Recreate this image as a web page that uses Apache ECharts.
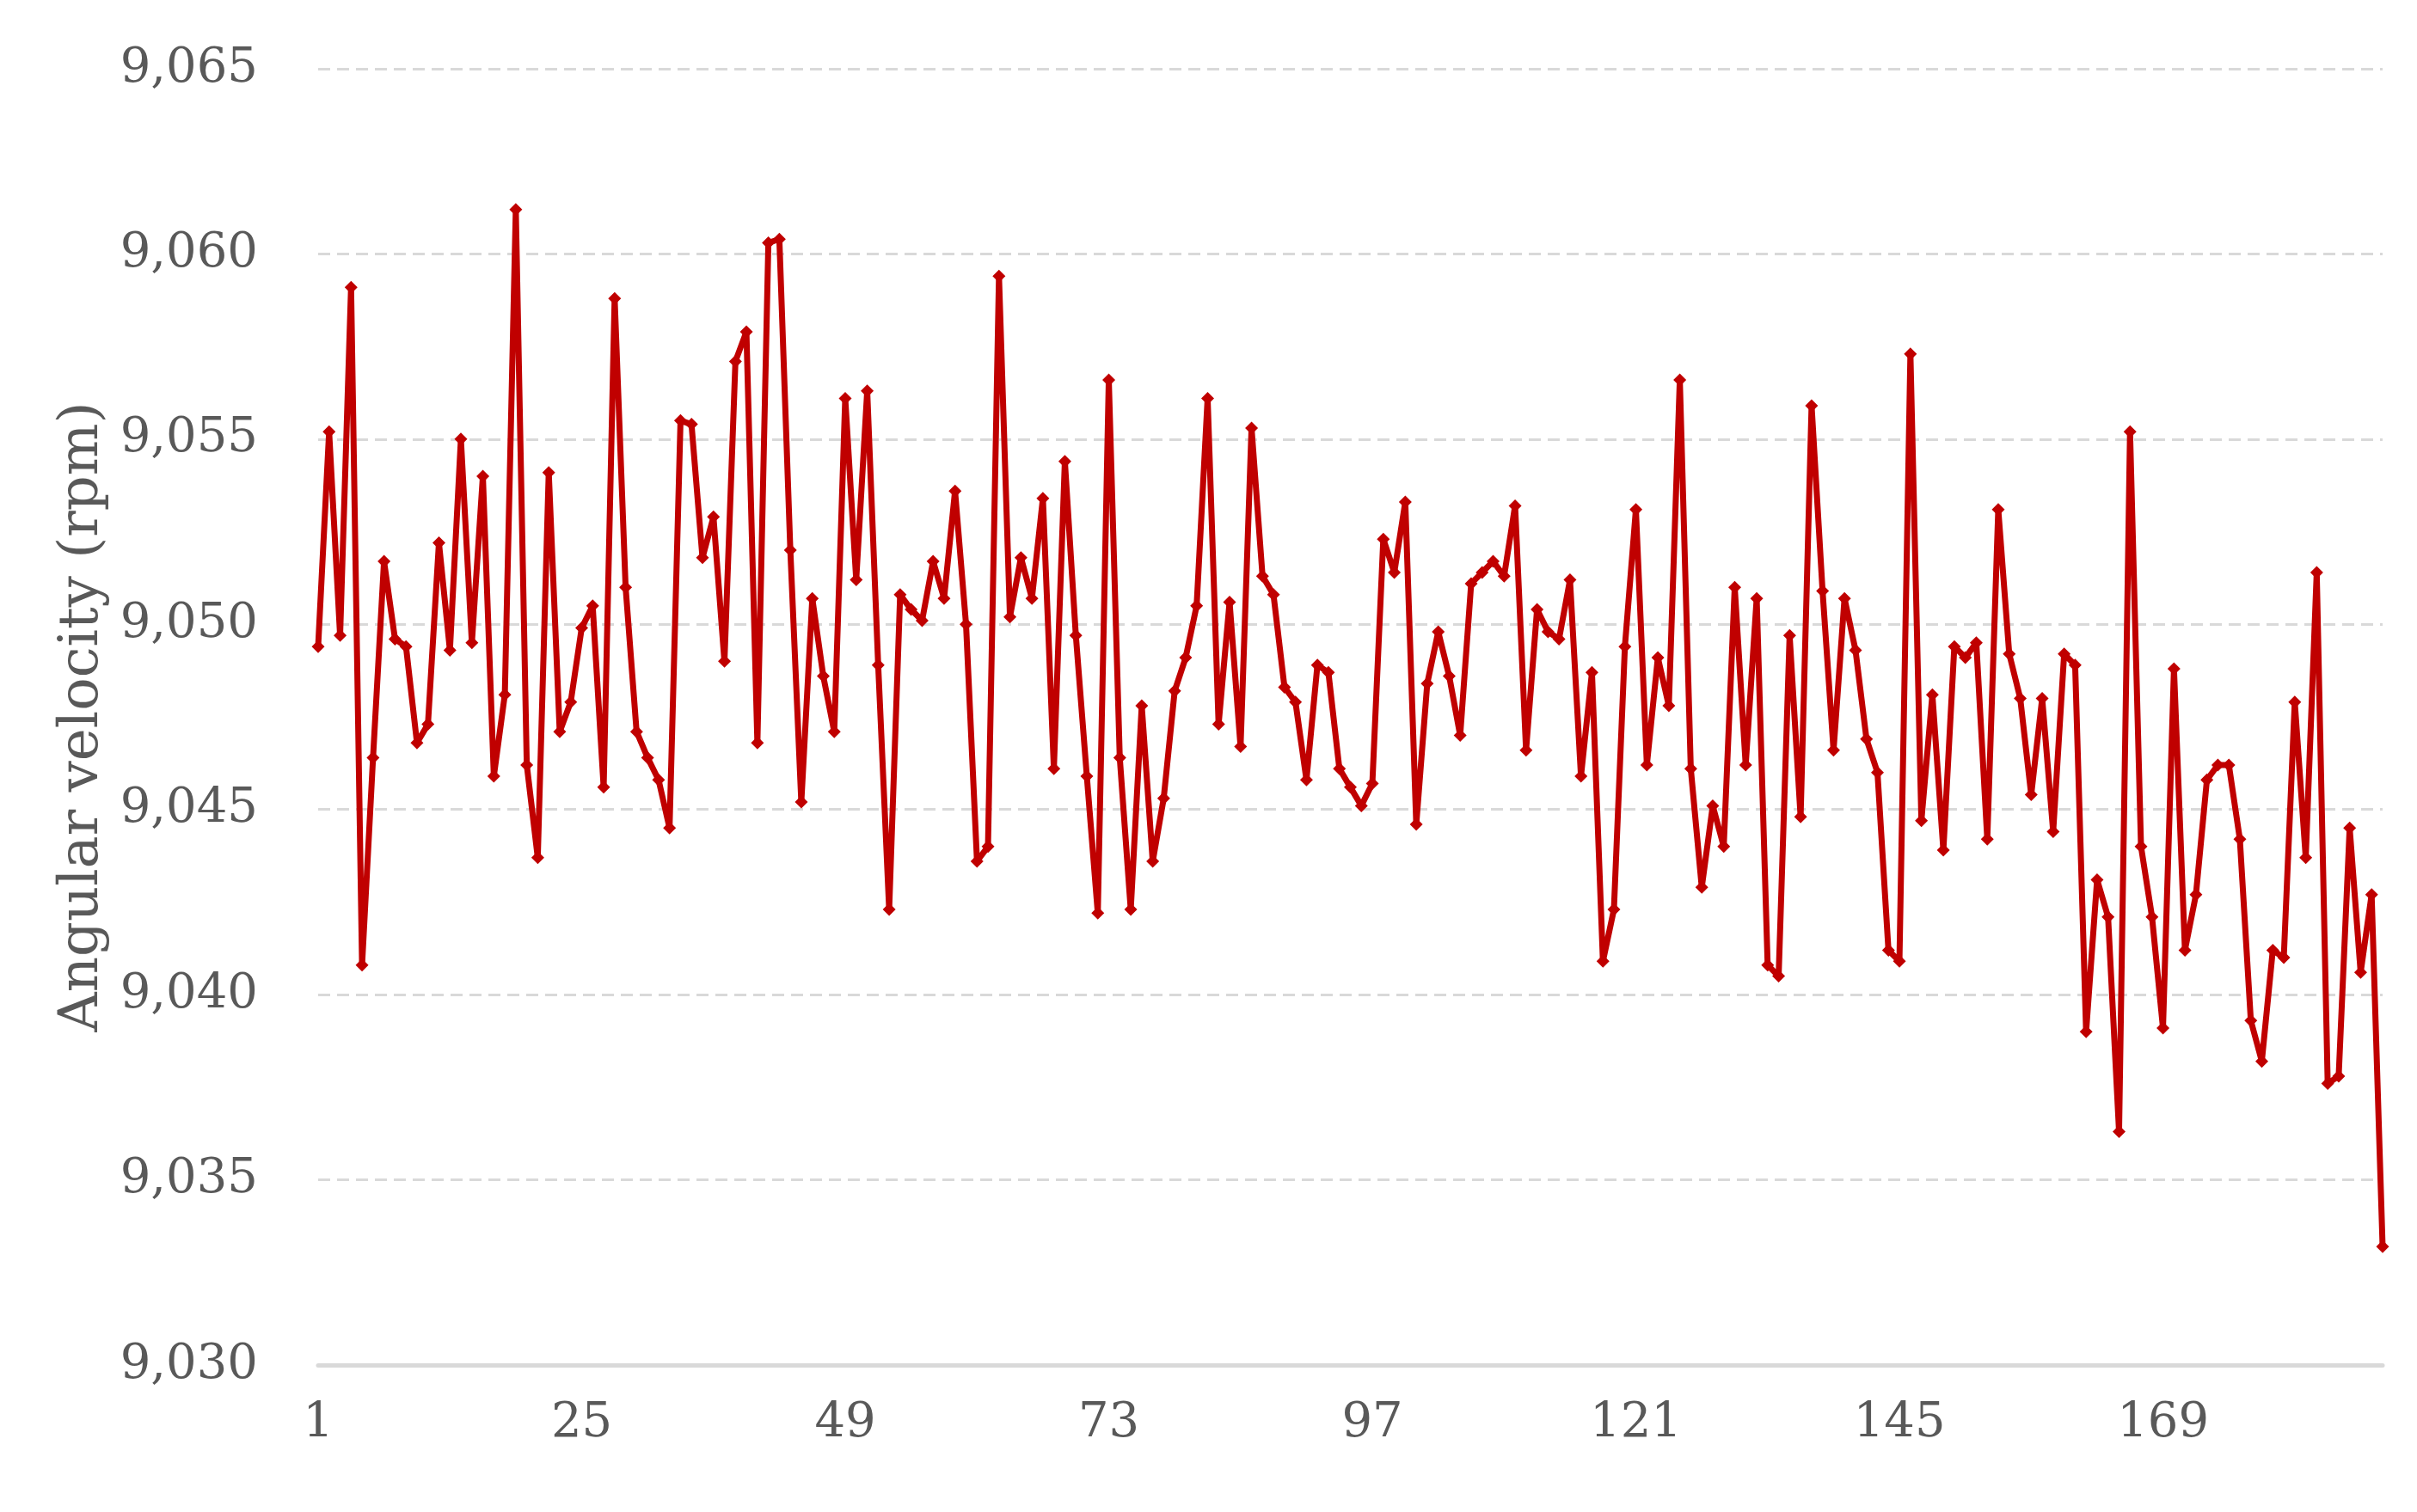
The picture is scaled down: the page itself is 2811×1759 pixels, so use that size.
<!DOCTYPE html>
<html>
<head>
<meta charset="UTF-8">
<style>
  html, body { margin: 0; padding: 0; background: #fff; }
  #chart { width: 2811px; height: 1759px; }
</style>
<script src="https://cdn.jsdelivr.net/npm/echarts@6/dist/echarts.min.js"></script>
</head>
<body>
<div id="chart"></div>
<script>
// angular velocity readings (rpm), one per sample
var rpm = [
  9049.4, 9055.2, 9049.7, 9059.1, 9040.8, 9046.4, 9051.7, 9049.6, 9049.4, 9046.8,
  9047.3, 9052.2, 9049.3, 9055.0, 9049.5, 9054.0, 9045.9, 9048.1, 9061.2, 9046.2,
  9043.7, 9054.1, 9047.1, 9047.9, 9049.9, 9050.5, 9045.6, 9058.8, 9051.0, 9047.1,
  9046.4, 9045.8, 9044.5, 9055.5, 9055.4, 9051.8, 9052.9, 9049.0, 9057.1, 9057.9,
  9046.8, 9060.3, 9060.4, 9052.0, 9045.2, 9050.7, 9048.6, 9047.1, 9056.1, 9051.2,
  9056.3, 9048.9, 9042.3, 9050.8, 9050.4, 9050.1, 9051.7, 9050.7, 9053.6, 9050.0,
  9043.6, 9044.0, 9059.4, 9050.2, 9051.8, 9050.7, 9053.4, 9046.1, 9054.4, 9049.7,
  9045.9, 9042.2, 9056.6, 9046.4, 9042.3, 9047.8, 9043.6, 9045.3, 9048.2, 9049.1,
  9050.5, 9056.1, 9047.3, 9050.6, 9046.7, 9055.3, 9051.3, 9050.8, 9048.3, 9047.9,
  9045.8, 9048.9, 9048.7, 9046.1, 9045.6, 9045.1, 9045.7, 9052.3, 9051.4, 9053.3,
  9044.6, 9048.4, 9049.8, 9048.6, 9047.0, 9051.1, 9051.4, 9051.7, 9051.3, 9053.2,
  9046.6, 9050.4, 9049.8, 9049.6, 9051.2, 9045.9, 9048.7, 9040.9, 9042.3, 9049.4,
  9053.1, 9046.2, 9049.1, 9047.8, 9056.6, 9046.1, 9042.9, 9045.1, 9044.0, 9051.0,
  9046.2, 9050.7, 9040.8, 9040.5, 9049.7, 9044.8, 9055.9, 9050.9, 9046.6, 9050.7,
  9049.3, 9046.9, 9046.0, 9041.2, 9040.9, 9057.3, 9044.7, 9048.1, 9043.9, 9049.4,
  9049.1, 9049.5, 9044.2, 9053.1, 9049.2, 9048.0, 9045.4, 9048.0, 9044.4, 9049.2,
  9048.9, 9039.0, 9043.1, 9042.1, 9036.3, 9055.2, 9044.0, 9042.1, 9039.1, 9048.8,
  9041.2, 9042.7, 9045.8, 9046.2, 9046.2, 9044.2, 9039.3, 9038.2, 9041.2, 9041.0,
  9047.9, 9043.7, 9051.4, 9037.6, 9037.8, 9044.5, 9040.6, 9042.7, 9033.2
];
var samples = rpm.map(function (v, i) { return String(i + 1); });

var font = '"DejaVu Serif", "Liberation Serif", serif';
var chart = echarts.init(document.getElementById('chart'));
chart.setOption({
  animation: false,
  grid: { left: 370, right: 40, top: 80, bottom: 171 },
  xAxis: {
    type: 'category',
    data: samples,
    boundaryGap: false,
    axisLine: { lineStyle: { color: '#d9d9d9', width: 5 } },
    axisTick: { show: false },
    axisLabel: {
      interval: 23, color: '#595959', fontSize: 56, fontFamily: font, margin: 40
    },
    splitLine: { show: false }
  },
  yAxis: {
    type: 'value',
    min: 9030, max: 9065, interval: 5,
    name: 'Angular velocity (rpm)',
    nameLocation: 'middle',
    nameGap: 220,
    nameTextStyle: { color: '#595959', fontSize: 64, fontFamily: font },
    axisLine: { show: false },
    axisTick: { show: false },
    axisLabel: { color: '#595959', fontSize: 56, fontFamily: font, margin: 70 },
    splitLine: { lineStyle: { color: '#d9d9d9', width: 3, type: [14, 8] } }
  },
  series: [{
    type: 'line',
    data: rpm,
    symbol: 'diamond',
    symbolSize: 15,
    showAllSymbol: true,
    lineStyle: { color: '#c00000', width: 7 },
    itemStyle: { color: '#c00000' }
  }]
});
</script>
</body>
</html>
